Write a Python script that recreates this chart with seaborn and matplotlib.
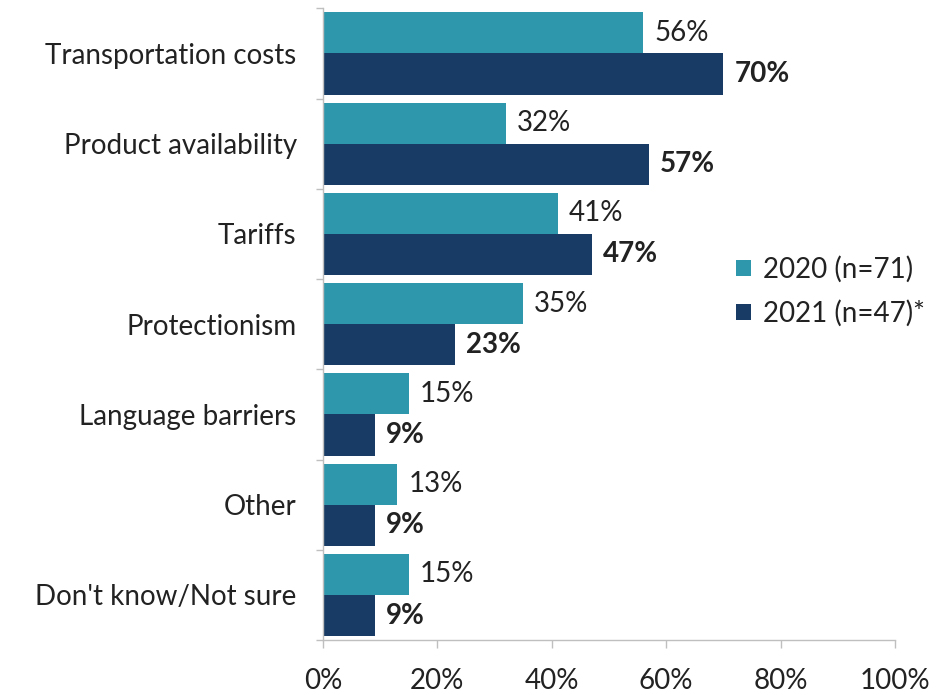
import matplotlib
matplotlib.use("Agg")
import matplotlib.pyplot as plt
import seaborn as sns
import pandas as pd
from matplotlib.ticker import FixedLocator, PercentFormatter

categories = ["Transportation costs", "Product availability", "Tariffs",
              "Protectionism", "Language barriers", "Other", "Don't know/Not sure"]
series_names = ["2020 (n=71)", "2021 (n=47)*"]
values_2020 = [56, 32, 41, 35, 15, 13, 15]
values_2021 = [70, 57, 47, 23, 9, 9, 9]
x_ticks = [0, 20, 40, 60, 80, 100]

colors = ["#2E97AB", "#173B64"]

df = pd.DataFrame({
    "category": categories * 2,
    "series": [series_names[0]] * len(categories) + [series_names[1]] * len(categories),
    "value": values_2020 + values_2021,
})

sns.set_theme(style="white")
plt.rcParams["font.family"] = ["Lato", "DejaVu Sans"]

FS = 20

fig = plt.figure(figsize=(9.53, 6.95), dpi=100)
ax = fig.add_axes([0.339, 0.079, 0.600, 0.909])

sns.barplot(data=df, y="category", x="value", hue="series", order=categories,
            hue_order=series_names, palette=colors, width=0.91, ax=ax,
            orient="h", saturation=1, legend=True, linewidth=0)

for i, cont in enumerate(ax.containers):
    ax.bar_label(cont, labels=[f"{v:.0f}%" for v in cont.datavalues], padding=8,
                 fontsize=FS, color="#222222",
                 fontweight="bold" if i == 1 else "normal")

ax.set_xlim(0, 100)
ax.set_ylim(len(categories) - 0.5, -0.5)
ax.xaxis.set_major_locator(FixedLocator(x_ticks))
ax.xaxis.set_major_formatter(PercentFormatter(decimals=0))
ax.set_xlabel("")
ax.set_ylabel("")

for s in ["top", "right"]:
    ax.spines[s].set_visible(False)
for s in ["left", "bottom"]:
    ax.spines[s].set_color("#BFBFBF")
    ax.spines[s].set_linewidth(1.0)

ax.tick_params(axis="x", which="major", bottom=True, direction="out", length=6,
               width=1, color="#BFBFBF", pad=14, labelsize=FS, labelcolor="#222222")
ax.tick_params(axis="y", which="major", left=True, length=0, pad=19,
               labelsize=FS, labelcolor="#222222")
ax.yaxis.set_minor_locator(FixedLocator([k - 0.5 for k in range(len(categories) + 1)]))
ax.tick_params(axis="y", which="minor", left=True, direction="out", length=5,
               width=1, color="#BFBFBF")

leg = ax.legend(loc="center left", bbox_to_anchor=(0.703, 0.552), frameon=False,
                fontsize=FS, handlelength=0.55, handleheight=0.55,
                handletextpad=0.4, labelspacing=0.62, labelcolor="#222222",
                borderaxespad=0)

fig.savefig("out.png", dpi=100)
